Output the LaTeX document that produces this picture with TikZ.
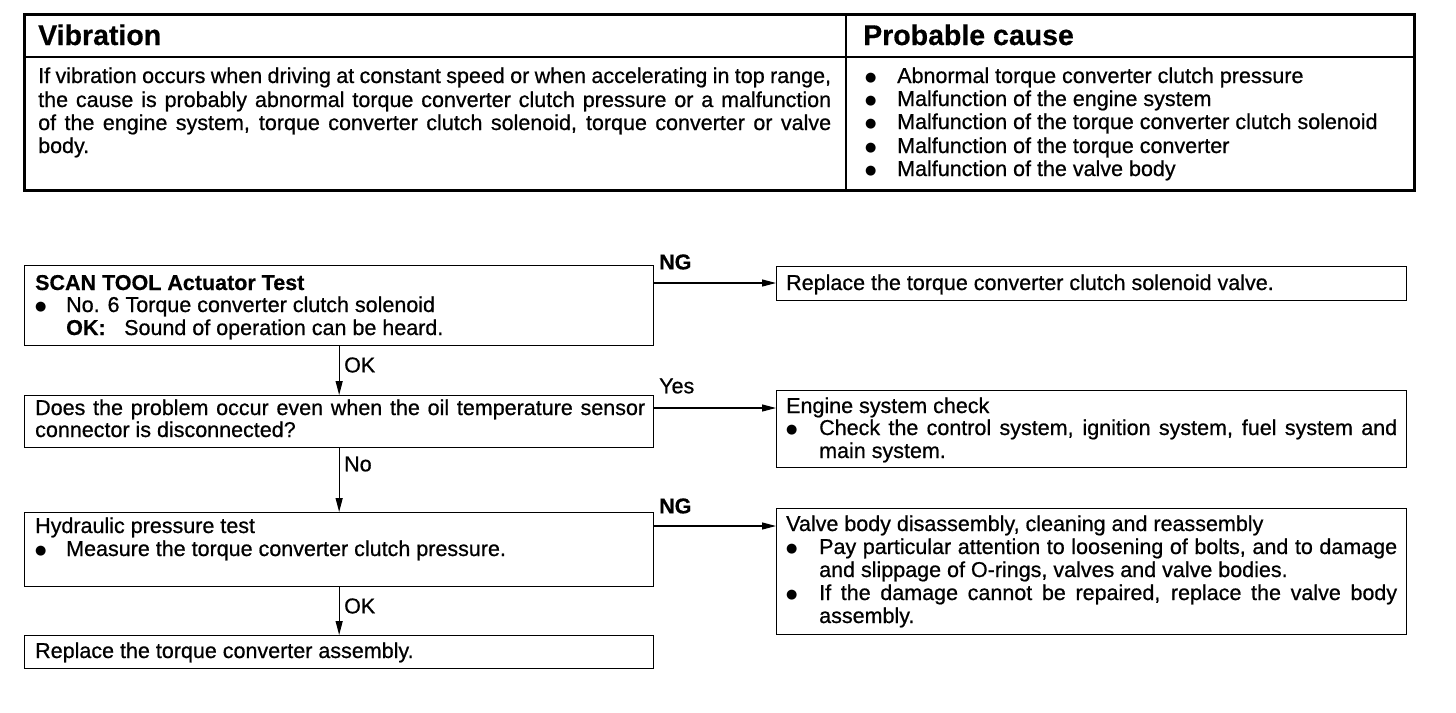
\documentclass[tikz,border=0pt]{standalone}
\usepackage{fontspec}
\setmainfont{Liberation Sans}[UprightFeatures={FakeBold=0.7}, BoldFeatures={FakeBold=0.5}]
\newfontfamily\dejavu{DejaVu Sans}
\usetikzlibrary{arrows.meta}
\newcommand\fs{\fontsize{21.5}{23}\selectfont}
\newcommand\fhead{\fontsize{28.5}{30}\selectfont\bfseries}
\newcommand\bul{\raisebox{1.5pt}{\dejavu\fontsize{13}{13}\selectfont ●}}
\tikzset{
  txt/.style={anchor=base west, inner sep=0pt, font=\fs},
  box/.style={draw, line width=1.3pt, anchor=north west, inner sep=0pt},
  conn/.style={line width=1.2pt, -{Triangle[length=14pt,width=7pt]}},
  lbl/.style={anchor=west, inner sep=0pt, font=\fs},
}
\begin{document}
\begin{tikzpicture}[x=1pt,y=-1pt]
\useasboundingbox (0,0) rectangle (1456,712);
% ---------- top table ----------
\node[draw, line width=2.6pt, anchor=north west, minimum width=1390pt, minimum height=176pt, inner sep=0pt] (tbl) at (23,13) {};
\coordinate (hsep) at (0,57);
\coordinate (vsep) at (846,0);
\draw[line width=1.2pt] (tbl.west |- hsep) -- (tbl.east |- hsep);
\draw[line width=1.2pt] (tbl.north -| vsep) -- (tbl.south -| vsep);
\node[txt, font=\fhead] (h1) at (38,45) {Vibration};
\node[txt, font=\fhead] (h2) at (863,45) {Probable cause};
\node[txt] (p1) at (38,83)  {\makebox[793pt][s]{If vibration occurs when driving at constant speed or when accelerating in top range,}};
\node[txt] (p2) at (38,107) {\makebox[793pt][s]{the cause is probably abnormal torque converter clutch pressure or a malfunction}};
\node[txt] (p3) at (38,130) {\makebox[793pt][s]{of the engine system, torque converter clutch solenoid, torque converter or valve}};
\node[txt] (p4) at (38,153) {body.};
\foreach \y/\t [count=\i] in {83/Abnormal torque converter clutch pressure,
  106/Malfunction of the engine system,
  129/Malfunction of the torque converter clutch solenoid,
  153/Malfunction of the torque converter,
  176/Malfunction of the valve body}{
  \node[txt] (cb\i) at (865,\y) {\bul};
  \node[txt] (c\i) at (897,\y) {\t};
}
% ---------- flow boxes ----------
\node[box, minimum width=629pt, minimum height=80pt] (B1) at (24,265) {};
\node[box, minimum width=629pt, minimum height=52pt] (B2) at (24,395) {};
\node[box, minimum width=629pt, minimum height=74pt] (B3) at (24,512) {};
\node[box, minimum width=629pt, minimum height=33pt] (B4) at (24,635) {};
\node[box, minimum width=630pt, minimum height=34pt] (R1) at (776,266) {};
\node[box, minimum width=630pt, minimum height=77pt] (R2) at (776,390) {};
\node[box, minimum width=630pt, minimum height=126pt] (R3) at (776,508) {};
% B1 text
\node[txt, font=\fs\bfseries] (b1a) at (35,290) {SCAN TOOL Actuator Test};
\node[txt] (b1b) at (35,312) {\bul};
\node[txt] (b1c) at (66,312) {No. 6 Torque converter clutch solenoid};
\node[txt, font=\fs\bfseries] (b1d) at (66,335) {OK:};
\node[txt] (b1e) at (124,335) {Sound of operation can be heard.};
% B2 text
\node[txt] (b2a) at (35,415) {\makebox[610pt][s]{Does the problem occur even when the oil temperature sensor}};
\node[txt] (b2b) at (35,437) {connector is disconnected?};
% B3 text
\node[txt] (b3a) at (35,533) {Hydraulic pressure test};
\node[txt] (b3b) at (35,556) {\bul};
\node[txt] (b3c) at (66,556) {Measure the torque converter clutch pressure.};
% B4 text
\node[txt] (b4a) at (35,658) {Replace the torque converter assembly.};
% R1
\node[txt] (r1a) at (786,290) {Replace the torque converter clutch solenoid valve.};
% R2
\node[txt] (r2a) at (786,413) {Engine system check};
\node[txt] (r2b) at (786,435) {\bul};
\node[txt] (r2c) at (819,435) {\makebox[578pt][s]{Check the control system, ignition system, fuel system and}};
\node[txt] (r2d) at (819,458) {main system.};
% R3
\node[txt] (r3a) at (786,531) {Valve body disassembly, cleaning and reassembly};
\node[txt] (r3b) at (786,554) {\bul};
\node[txt] (r3c) at (819,554) {\makebox[578pt][s]{Pay particular attention to loosening of bolts, and to damage}};
\node[txt] (r3d) at (819,577) {and slippage of O-rings, valves and valve bodies.};
\node[txt] (r3e) at (786,600) {\bul};
\node[txt] (r3f) at (819,600) {\makebox[578pt][s]{If the damage cannot be repaired, replace the valve body}};
\node[txt] (r3g) at (819,623) {assembly.};
% ---------- connectors ----------
\coordinate (a1) at (0,283);
\coordinate (a2) at (0,408);
\coordinate (a3) at (0,526);
\draw[conn] (B1.south) -- (B2.north);
\draw[conn] (B2.south) -- (B3.north);
\draw[conn] (B3.south) -- (B4.north);
\draw[conn] (B1.east |- a1) -- (R1.west |- a1);
\draw[conn] (B2.east |- a2) -- (R2.west |- a2);
\draw[conn] (B3.east |- a3) -- (R3.west |- a3);
\node[lbl] (l1) at (344,365) {OK};
\node[lbl] (l2) at (344,464) {No};
\node[lbl] (l3) at (344,606) {OK};
\node[lbl, font=\fs\bfseries] (n1) at (659,262) {NG};
\node[lbl] (n2) at (659,386) {Yes};
\node[lbl, font=\fs\bfseries] (n3) at (659,506) {NG};
\end{tikzpicture}
\end{document}
